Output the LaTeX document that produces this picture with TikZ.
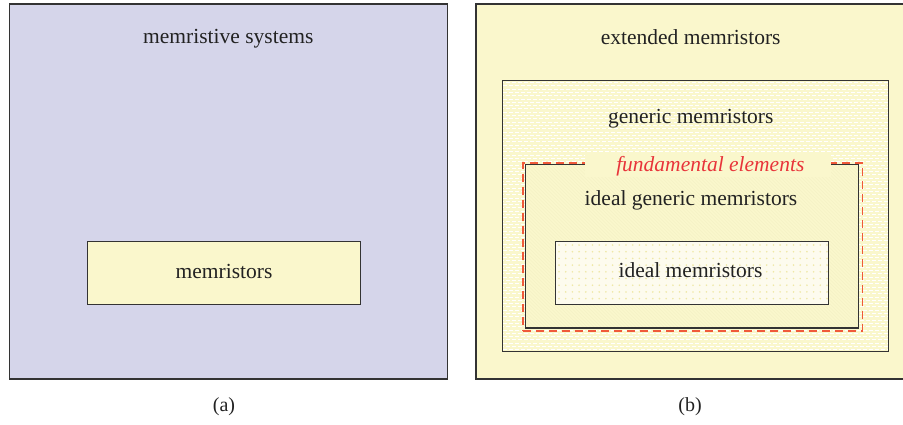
\documentclass[tikz,border=0pt]{standalone}
\usepackage{fontspec}
\setmainfont{Liberation Serif}
\definecolor{lavender}{HTML}{D5D5EA}
\definecolor{paleyellow}{HTML}{FAF7CC}
\definecolor{hatchyellow}{HTML}{F5F1C5}
\definecolor{dotyellow}{HTML}{EFE8A6}
\definecolor{nearwhite}{HTML}{FDFBEE}
\definecolor{linegray}{HTML}{333333}
\definecolor{textgray}{HTML}{222222}
\definecolor{fundred}{HTML}{E8343A}
\definecolor{dashred}{HTML}{F05A3A}
\begin{document}
\begin{tikzpicture}[x=1pt,y=-1pt,
  frame/.style={draw=linegray, line width=1.5pt, inner sep=0pt, outer sep=0pt},
  lbl/.style={anchor=base, inner sep=0pt, text=textgray,
              font=\fontsize{21.5}{24}\selectfont},
  caption/.style={lbl, font=\fontsize{20}{24}\selectfont}]
\clip (0,0) rectangle (903,424);
\fill[white] (0,0) rectangle (903,424);

% ---------- (a) memristive systems ----------
\node[frame, fill=lavender, minimum width=438.4pt, minimum height=375pt] (sys) at (228.5,191.5) {};
\node[frame, fill=paleyellow, minimum width=273pt, minimum height=63pt] (mem) at (223.8,272.8) {};
\node[lbl] (systxt) at (228.3,43.5) {memristive systems};
\node[lbl] (memtxt) at (224,278.3) {memristors};
\node[caption] (capa) at (224,411) {(a)};

% ---------- (b) extended memristors ----------
\node[frame, fill=paleyellow, minimum width=434pt, minimum height=375pt] (ext) at (693,191.5) {};
\node[lbl] (exttxt) at (690.7,44) {extended memristors};

% generic memristors: yellow with rows of white dashes
\node[frame, fill=paleyellow, minimum width=386pt, minimum height=271pt] (gen) at (695.3,216.2) {};
\begin{scope}
  \clip (gen.south west) rectangle (gen.north east);
  \foreach \i in {0,...,82} {
    \pgfmathsetmacro\ph{mod(\i,2)*3}
    \pgfmathsetmacro\yy{82.5+\i*3.3}
    \draw[white, line width=0.9pt, dash pattern=on 4pt off 2pt, dash phase=\ph pt]
      (500,\yy) -- (890,\yy);
  }
\end{scope}
\draw[linegray, line width=1.5pt] (gen.south west) rectangle (gen.north east);
\node[lbl] (gentxt) at (690.8,123.3) {generic memristors};

% fundamental elements (dashed outline)
\node[draw=dashred, line width=1.6pt, dash pattern=on 8pt off 5pt, inner sep=0pt,
      minimum width=339.6pt, minimum height=168pt] (fund) at (692.5,246.7) {};

% ideal generic memristors: faint diagonal hatching
\node[frame, fill=paleyellow, minimum width=333pt, minimum height=163.7pt] (igen) at (691.8,246.15) {};
\begin{scope}
  \clip (igen.south west) rectangle (igen.north east);
  \foreach \x in {340,343.5,...,862} {
    \draw[hatchyellow, line width=0.5pt] (\x,164) -- (\x+170,334);
  }
\end{scope}
\draw[linegray, line width=1.5pt] (igen.south west) rectangle (igen.north east);

% label of the dashed outline, on a plain strip
\node[fill=paleyellow, inner sep=0pt, minimum width=245.7pt, minimum height=22pt] (fundbg) at (707.8,166) {};
\node[lbl, text=fundred, font=\fontsize{21.5}{24}\selectfont\itshape] (fundtxt) at (710.3,171.7) {fundamental elements};
\node[lbl] (igentxt) at (691,205) {ideal generic memristors};

% ideal memristors: dotted fill
\node[frame, fill=nearwhite, minimum width=272.6pt, minimum height=63pt] (ideal) at (692,273.2) {};
\begin{scope}
  \clip (ideal.south west) rectangle (ideal.north east);
  \foreach \x in {559,565.7,...,828} {
    \foreach \y in {245,251.7,...,304} {
      \fill[dotyellow] (\x,\y) circle (0.9);
    }
  }
\end{scope}
\draw[linegray, line width=1.5pt] (ideal.south west) rectangle (ideal.north east);
\node[lbl] (idealtxt) at (690.5,277.3) {ideal memristors};
\node[caption] (capb) at (690,411) {(b)};
\end{tikzpicture}
\end{document}
